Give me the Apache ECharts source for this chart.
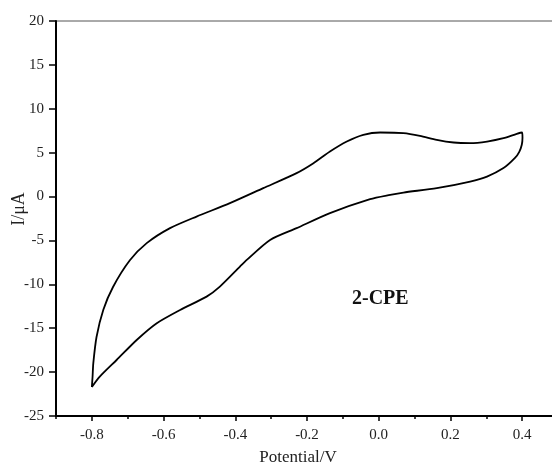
<!DOCTYPE html>
<html>
<head>
<meta charset="utf-8">
<script src="https://cdn.jsdelivr.net/npm/echarts@6/dist/echarts.min.js"></script>
<style>
  html, body { margin: 0; padding: 0; background: #fff; }
  #cvChart { width: 552px; height: 468px; }
</style>
</head>
<body>
<div id="cvChart"></div>
<script>
// forward sweep -0.8 -> 0.4 V (upper branch)
const forwardPotential = [-0.8, -0.798, -0.796, -0.787, -0.768, -0.741, -0.694, -0.647, -0.582, -0.508, -0.415, -0.322, -0.229, -0.182, -0.136, -0.089, -0.043, 0.004, 0.069, 0.115, 0.162, 0.209, 0.255, 0.302, 0.348, 0.385, 0.4];
const forwardCurrent = [-21.7, -20.5, -19.0, -16.0, -12.9, -10.3, -7.26, -5.31, -3.6, -2.28, -0.75, 0.96, 2.67, 3.8, 5.13, 6.27, 7.03, 7.3, 7.23, 6.92, 6.46, 6.16, 6.09, 6.27, 6.65, 7.15, 7.3];
// reverse sweep 0.4 -> -0.8 V (lower branch)
const reversePotential = [0.401, 0.399, 0.392, 0.38, 0.348, 0.302, 0.255, 0.162, 0.069, 0.032, -0.024, -0.136, -0.229, -0.303, -0.368, -0.387, -0.443, -0.48, -0.554, -0.619, -0.675, -0.731, -0.778, -0.8];
const reverseCurrent = [6.7, 5.9, 5.1, 4.4, 3.24, 2.28, 1.71, 0.96, 0.46, 0.19, -0.3, -1.89, -3.6, -4.94, -7.22, -7.98, -10.26, -11.4, -12.92, -14.43, -16.34, -18.62, -20.52, -21.7];

const xMajorTicks = [-0.8, -0.6, -0.4, -0.2, 0.0, 0.2, 0.4];
const xMinorTicks = [-0.9, -0.7, -0.5, -0.3, -0.1, 0.1, 0.3];
const yTicks = [-25, -20, -15, -10, -5, 0, 5, 10, 15, 20];

const loopData = [];
forwardPotential.forEach((v, i) => loopData.push([v, forwardCurrent[i]]));
reversePotential.forEach((v, i) => loopData.push([v, reverseCurrent[i]]));

const serif = "Liberation Serif";
const chart = echarts.init(document.getElementById("cvChart"));

const option = {
  animation: false,
  grid: {
    left: 56,
    top: 21,
    right: -6,
    bottom: 52,
    outerBoundsMode: "none",
    containLabel: false,
    show: true,
    borderColor: "#555",
    borderWidth: 1,
  },
  xAxis: [
    {
      type: "value",
      min: -0.9,
      max: 0.5,
      interval: 0.1,
      name: "Potential/V",
      nameLocation: "middle",
      nameGap: 33,
      nameTextStyle: { fontFamily: serif, fontSize: 17, color: "#222", padding: [0, 18, 0, 0] },
      axisLine: { onZero: false, lineStyle: { color: "#000", width: 2 } },
      axisTick: { customValues: xMajorTicks, length: 5, lineStyle: { color: "#000", width: 1.5 } },
      axisLabel: {
        customValues: xMajorTicks,
        margin: 12,
        fontFamily: serif,
        fontSize: 15,
        color: "#222",
        formatter: (v) => v.toFixed(1),
      },
      splitLine: { show: false },
    },
    {
      type: "value",
      position: "bottom",
      min: -0.9,
      max: 0.5,
      interval: 0.1,
      axisLine: { show: false, onZero: false },
      axisTick: { customValues: xMinorTicks, length: 3, lineStyle: { color: "#000", width: 1.5 } },
      axisLabel: { show: false },
      splitLine: { show: false },
    },
  ],
  yAxis: {
    type: "value",
    min: -25,
    max: 20,
    interval: 5,
    axisLine: { onZero: false, lineStyle: { color: "#000", width: 2 } },
    axisTick: { customValues: yTicks, length: 7, lineStyle: { color: "#000", width: 1.5 } },
    axisLabel: { margin: 12, fontFamily: serif, fontSize: 15, color: "#222" },
    splitLine: { show: false },
  },
  graphic: [
    {
      // y axis title
      type: "text",
      x: 19,
      y: 209,
      rotation: Math.PI / 2,
      style: {
        text: "I/μA",
        font: "18px 'Liberation Serif'",
        fill: "#222",
        align: "center",
        verticalAlign: "middle",
      },
    },
    {
      type: "text",
      left: 352,
      top: 289,
      style: { text: "2-CPE", font: "bold 20px 'Liberation Serif'", fill: "#111" },
    },
  ],
  series: [
    {
      type: "line",
      data: loopData,
      smooth: 0.25,
      symbol: "none",
      lineStyle: { color: "#000", width: 1.8 },
    },
  ],
};
chart.setOption(option);
</script>
</body>
</html>
